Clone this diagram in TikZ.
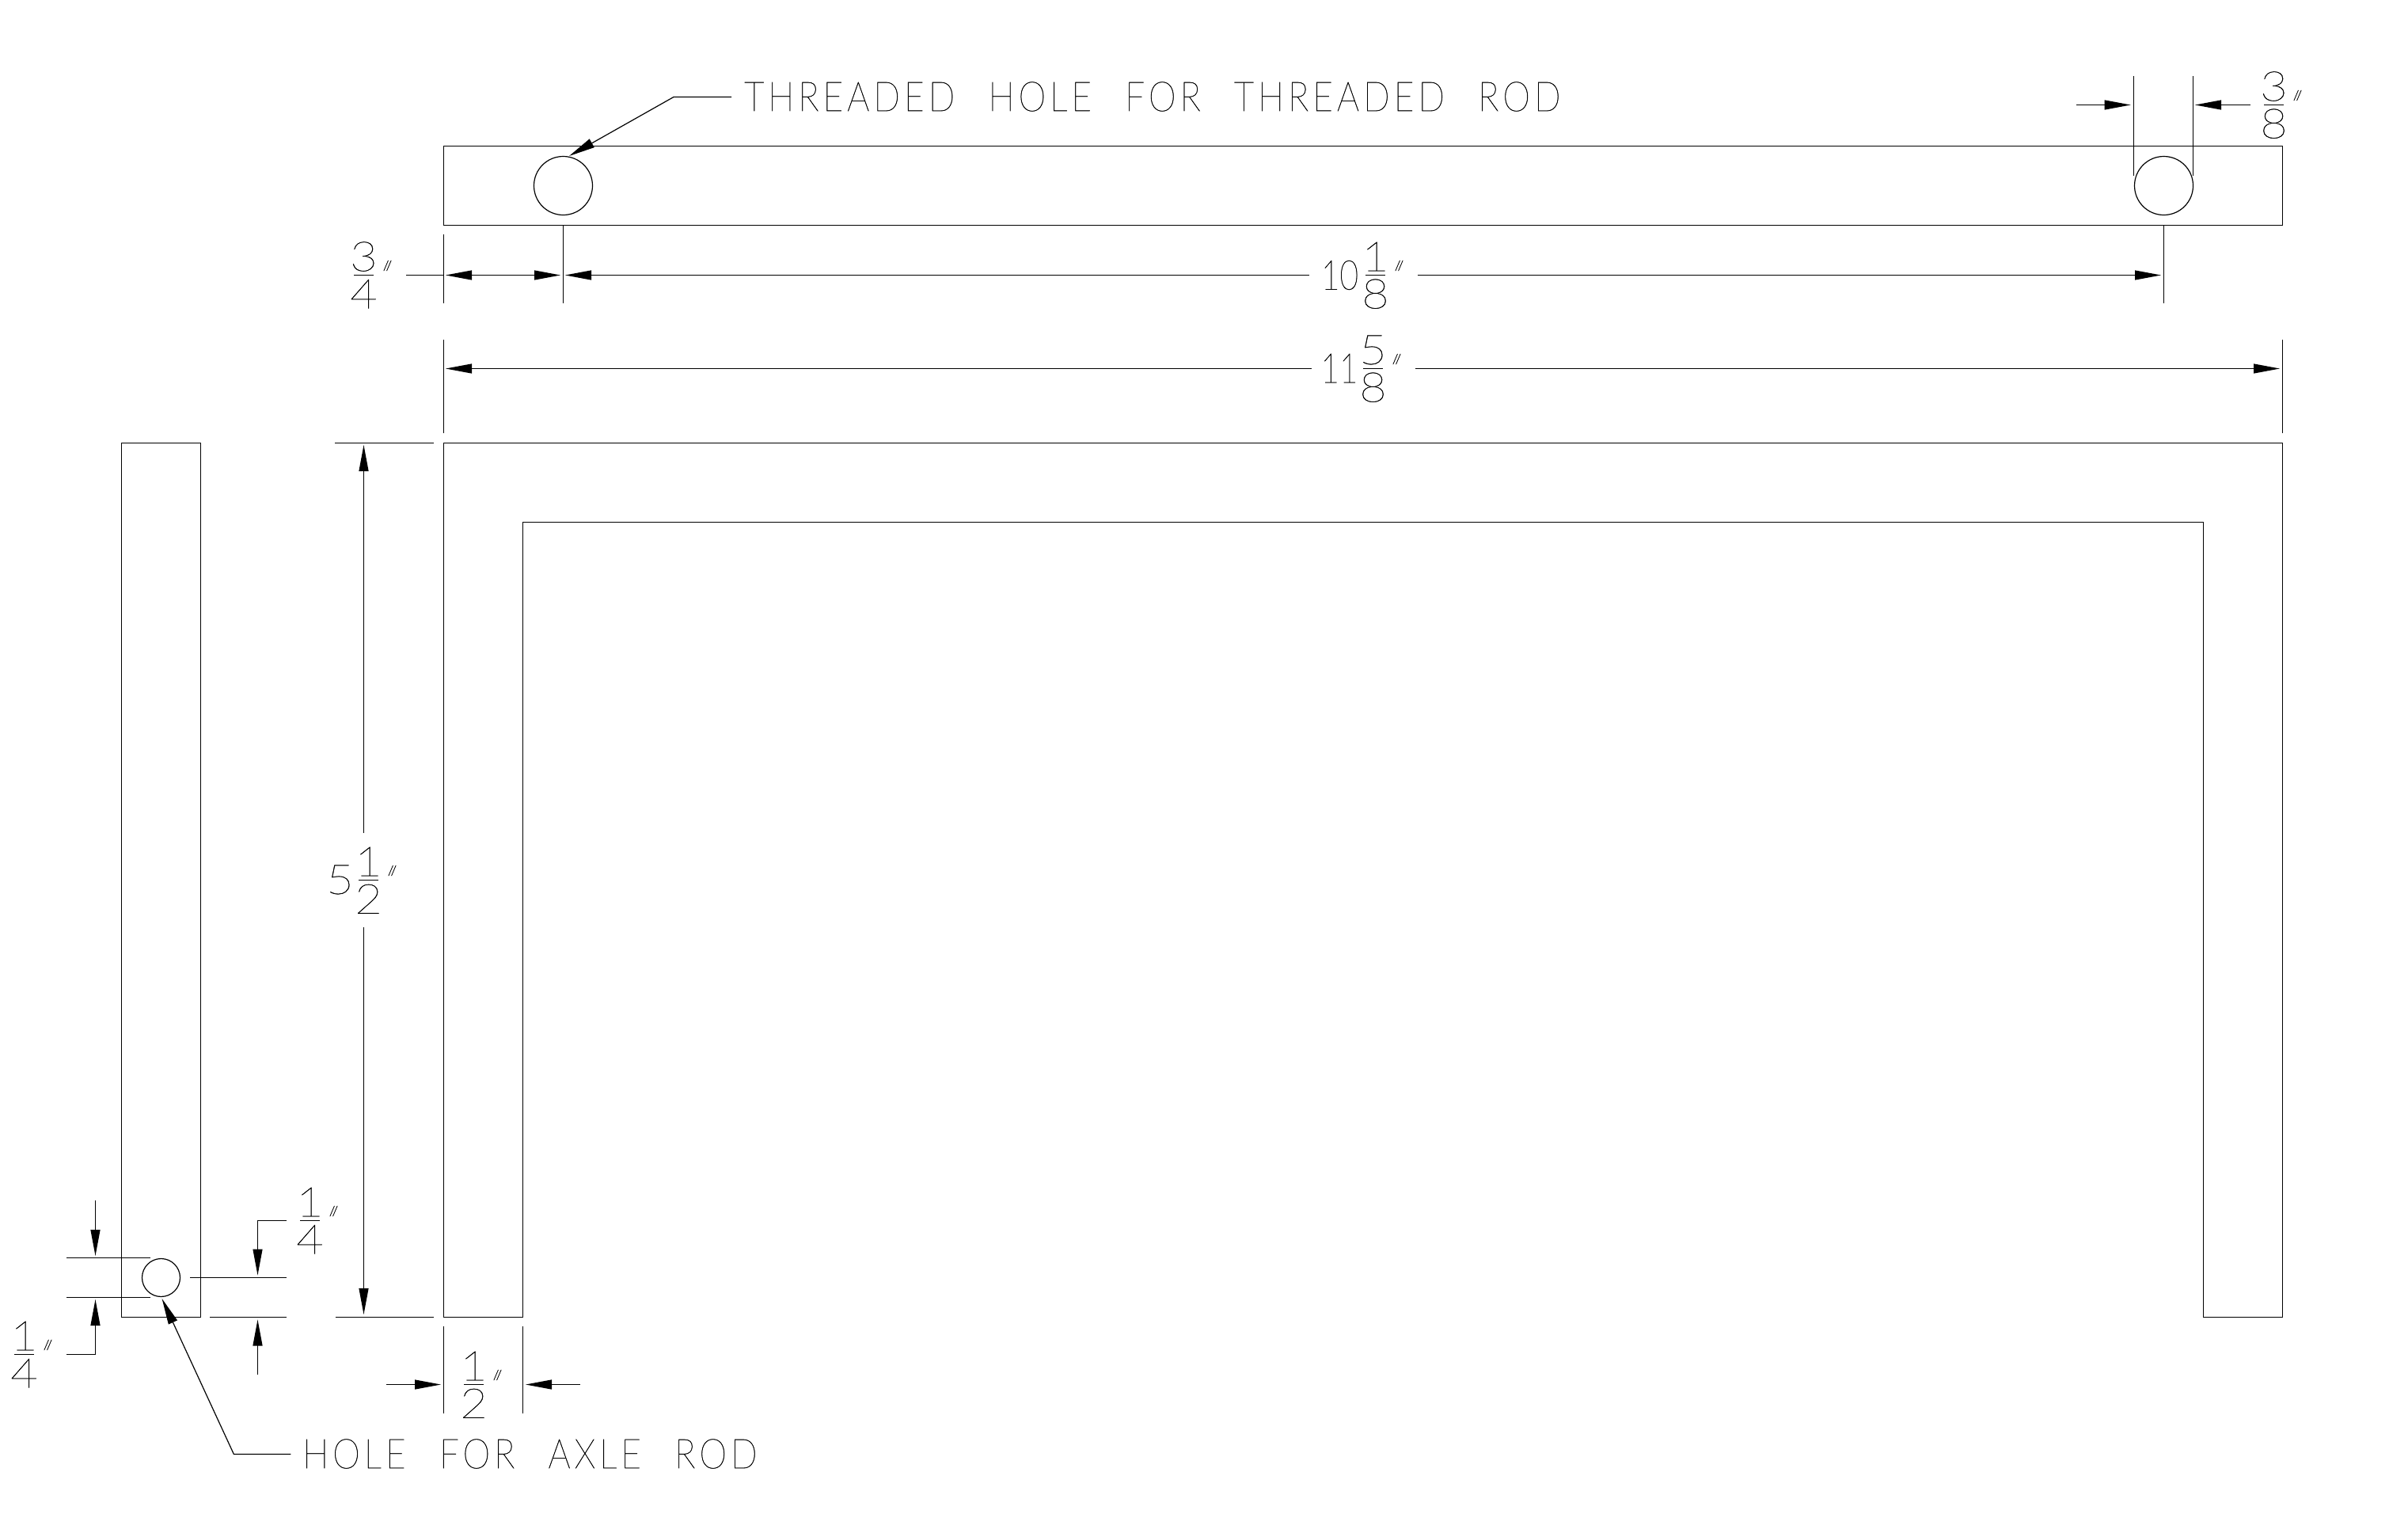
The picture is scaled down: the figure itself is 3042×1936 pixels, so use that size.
\documentclass[tikz,border=0pt]{standalone}
\usepackage{fontspec}
\usetikzlibrary{arrows.meta}
\newfontfamily\cadtext[LetterSpace=9.6,WordSpace=2.4,FakeStretch=0.85,FakeBold=0.6]{Lato Hairline}
\newfontfamily\caddigit[FakeBold=0.6,FakeStretch=1.15]{Lato Hairline}
\newfontfamily\cadwhole[FakeBold=0.6,FakeStretch=0.78]{Lato Hairline}
\newfontfamily\cadinch[FakeBold=3]{Lato Hairline}
\tikzset{
  cadline/.style={line width=1.2pt,black},
  dimhead/.style={cadline,-{Triangle[length=33pt,width=12pt]}},
  dimboth/.style={cadline,{Triangle[length=33pt,width=12pt]}-{Triangle[length=33pt,width=12pt]}},
  holeshape/.style={circle,draw,line width=1.2pt,inner sep=0pt},
  notetext/.style={anchor=west,inner sep=0pt,font=\cadtext\fontsize{52}{52}\selectfont},
  digit/.style={inner sep=0pt,font=\caddigit\fontsize{52}{52}\selectfont},
  whole/.style={inner sep=0pt,font=\cadwhole\fontsize{52}{52}\selectfont},
  inchmark/.style={inner sep=0pt,font=\cadinch\fontsize{17}{17}\selectfont}
}
\newcommand{\cadfrac}[5]{%
  \coordinate (#1) at (#2,#3);
  \node[digit] (#1num) at (#2,#3-23.5) {#4};
  \node[digit] (#1den) at (#2,#3+23.7) {#5};
  \node[inchmark] (#1in) at (#2+30,#3-12) {//};
  \draw[cadline] (#2-12.5,#3) coordinate (#1a) -- (#2+12.5,#3) coordinate (#1b);
}
\begin{document}
\begin{tikzpicture}[x=1pt,y=-1pt]
\useasboundingbox (0,0) rectangle (3042,1936);
% parts
\draw[cadline] (560.5,184.5) rectangle (2883.5,284.5);
\draw[cadline] (153.5,559.5) rectangle (253.5,1663.5);
\draw[cadline] (560.5,559.5) -- (2883.5,559.5) -- (2883.5,1663.5) -- (2783.5,1663.5) -- (2783.5,659.5) -- (660.5,659.5) -- (660.5,1663.5) -- (560.5,1663.5) -- cycle;
\node[holeshape,minimum size=74pt] (holeL) at (711.5,234.5) {};
\node[holeshape,minimum size=74pt] (holeR) at (2733.5,234.5) {};
\node[holeshape,minimum size=48pt] (holeA) at (203.5,1613.5) {};
% notes
\node[notetext] (noteT) at (940,122) {THREADED HOLE FOR THREADED ROD};
\node[notetext] (noteA) at (382,1836) {HOLE FOR AXLE ROD};
\coordinate (tT0) at (924,122.5); \coordinate (tT1) at (851,122.5); \coordinate (tT2) at (719,197);
\draw[dimhead] (tT0) -- (tT1) -- (tT2);
\coordinate (tA0) at (367.3,1836.5); \coordinate (tA1) at (295.4,1836.5); \coordinate (tA2) at (204.6,1640);
\draw[dimhead] (tA0) -- (tA1) -- (tA2);
% 3/4 and 10 1/8
\coordinate (e1a) at (560.5,296); \coordinate (e1b) at (560.5,383.3);
\coordinate (e2a) at (711.5,284.5); \coordinate (e2b) at (711.5,383.3);
\coordinate (e3a) at (2733.5,284.5); \coordinate (e3b) at (2733.5,383.3);
\draw[cadline] (e1a) -- (e1b);
\draw[cadline] (e2a) -- (e2b);
\draw[cadline] (e3a) -- (e3b);
\coordinate (s1) at (513,347.5); \coordinate (s1e) at (560.5,347.5);
\draw[cadline] (s1) -- (s1e);
\coordinate (d1a) at (563,347.5); \coordinate (d1b) at (708,347.5);
\draw[dimboth] (d1a) -- (d1b);
\cadfrac{fa}{459.5}{347.5}{3}{4}
\coordinate (d2a) at (1654,347.5); \coordinate (d2b) at (714,347.5);
\coordinate (d2c) at (1791,347.5); \coordinate (d2d) at (2730,347.5);
\draw[dimhead] (d2a) -- (d2b);
\draw[dimhead] (d2c) -- (d2d);
\node[whole] (w10) at (1692.5,347.5) {10};
\cadfrac{fb}{1737.5}{347.5}{1}{8}
% 11 5/8
\coordinate (e4a) at (560.5,429); \coordinate (e4b) at (560.5,547.3);
\coordinate (e5a) at (2883.5,429); \coordinate (e5b) at (2883.5,547.3);
\draw[cadline] (e4a) -- (e4b);
\draw[cadline] (e5a) -- (e5b);
\coordinate (d3a) at (1657,465.5); \coordinate (d3b) at (563,465.5);
\coordinate (d3c) at (1788,465.5); \coordinate (d3d) at (2880,465.5);
\draw[dimhead] (d3a) -- (d3b);
\draw[dimhead] (d3c) -- (d3d);
\node[whole] (w11) at (1692,465) {11};
\cadfrac{fc}{1734.5}{465.5}{5}{8}
% 3/8
\coordinate (e6a) at (2695.5,96); \coordinate (e6b) at (2695.5,221.7);
\coordinate (e7a) at (2770.5,96); \coordinate (e7b) at (2770.5,221.7);
\draw[cadline] (e6a) -- (e6b);
\draw[cadline] (e7a) -- (e7b);
\coordinate (d4a) at (2623,132.5); \coordinate (d4b) at (2691.7,132.5);
\coordinate (d4c) at (2843,132.5); \coordinate (d4d) at (2773,132.5);
\draw[dimhead] (d4a) -- (d4b);
\draw[dimhead] (d4c) -- (d4d);
\cadfrac{fd}{2872.5}{132.5}{3}{8}
% 5 1/2
\coordinate (e8a) at (423,559.5); \coordinate (e8b) at (548,559.5);
\coordinate (e9a) at (423.5,1663.5); \coordinate (e9b) at (548,1663.5);
\draw[cadline] (e8a) -- (e8b);
\draw[cadline] (e9a) -- (e9b);
\coordinate (d5a) at (459.5,1051.7); \coordinate (d5b) at (459.5,562);
\coordinate (d5c) at (459.5,1171); \coordinate (d5d) at (459.5,1660);
\draw[dimhead] (d5a) -- (d5b);
\draw[dimhead] (d5c) -- (d5d);
\node[digit] (w5) at (429.5,1111) {5};
\cadfrac{fe}{465.5}{1111.5}{1}{2}
% 1/2
\coordinate (e10a) at (560.5,1675); \coordinate (e10b) at (560.5,1785);
\coordinate (e11a) at (660.5,1675); \coordinate (e11b) at (660.5,1785);
\draw[cadline] (e10a) -- (e10b);
\draw[cadline] (e11a) -- (e11b);
\coordinate (d6a) at (488,1748.5); \coordinate (d6b) at (557,1748.5);
\coordinate (d6c) at (733,1748.5); \coordinate (d6d) at (664,1748.5);
\draw[dimhead] (d6a) -- (d6b);
\draw[dimhead] (d6c) -- (d6d);
\cadfrac{ff}{598.5}{1748.5}{1}{2}
% left 1/4
\coordinate (e12a) at (84,1588.5); \coordinate (e12b) at (190,1588.5);
\coordinate (e13a) at (84,1638.5); \coordinate (e13b) at (190,1638.5);
\draw[cadline] (e12a) -- (e12b);
\draw[cadline] (e13a) -- (e13b);
\coordinate (d7a) at (120.5,1516); \coordinate (d7b) at (120.5,1586);
\draw[dimhead] (d7a) -- (d7b);
\coordinate (d8a) at (84,1710.5); \coordinate (d8b) at (120.5,1710.5); \coordinate (d8c) at (120.5,1641);
\draw[dimhead] (d8a) -- (d8b) -- (d8c);
\cadfrac{fg}{30.5}{1710.5}{1}{4}
% right 1/4
\coordinate (e14a) at (240,1613.5); \coordinate (e14b) at (362,1613.5);
\coordinate (e15a) at (265,1663.5); \coordinate (e15b) at (362,1663.5);
\draw[cadline] (e14a) -- (e14b);
\draw[cadline] (e15a) -- (e15b);
\coordinate (d9a) at (362,1541.5); \coordinate (d9b) at (325.5,1541.5); \coordinate (d9c) at (325.5,1610.5);
\draw[dimhead] (d9a) -- (d9b) -- (d9c);
\coordinate (d10a) at (325.5,1736); \coordinate (d10b) at (325.5,1666.5);
\draw[dimhead] (d10a) -- (d10b);
\cadfrac{fh}{391.5}{1541.5}{1}{4}
\end{tikzpicture}
\end{document}
